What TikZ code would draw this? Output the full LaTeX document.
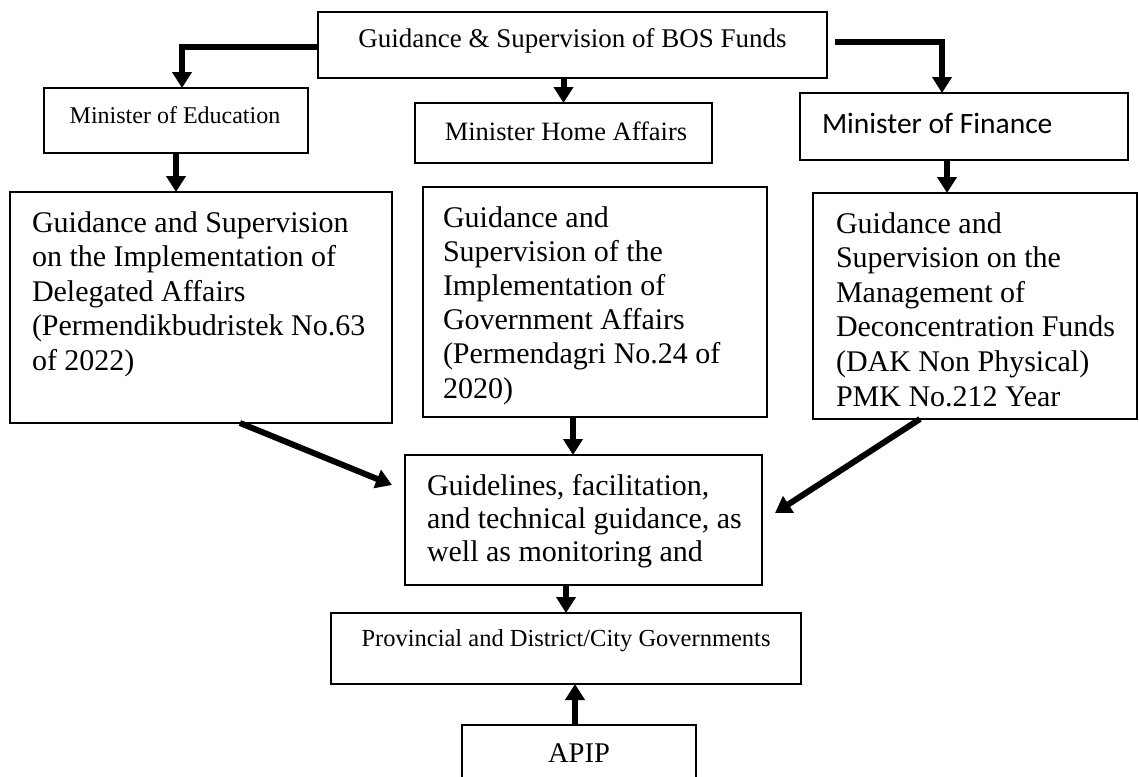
\documentclass[tikz,border=0pt]{standalone}
\usepackage{fontspec}
\setmainfont{Liberation Serif}
\newfontfamily\calibfont{Carlito}
\usetikzlibrary{arrows.meta,calc}
\begin{document}
\begin{tikzpicture}[x=1pt,y=-1pt,
  box/.style={draw,line width=2pt,inner sep=0pt,outer sep=0pt},
  arr/.style={line width=6pt,line join=miter,-{Triangle[length=16pt,width=19pt]}},
  lbl/.style={inner sep=0pt,outer sep=0pt},
  big/.style={lbl,anchor=base west}]
\useasboundingbox (0,0) rectangle (1139,776);
\clip (0,0) rectangle (1139,776);
% boxes
\node[box,minimum width=509pt,minimum height=66pt] (top) at (572.5,45) {};
\node[box,minimum width=264pt,minimum height=65pt] (moe) at (176,120.5) {};
\node[box,minimum width=297pt,minimum height=60pt] (mha) at (563.5,133) {};
\node[box,minimum width=328pt,minimum height=67pt] (mof) at (964,126.5) {};
\node[box,minimum width=382pt,minimum height=231pt] (g1) at (201,307.5) {};
\node[box,minimum width=344pt,minimum height=230pt] (g2) at (595,302) {};
\node[box,minimum width=324pt,minimum height=226pt] (g3) at (975,306) {};
\node[box,minimum width=357pt,minimum height=130pt] (guide) at (583.5,520) {};
\node[box,minimum width=470pt,minimum height=71pt] (pdcg) at (566,648.5) {};
\node[box,minimum width=234pt,minimum height=65pt] (apip) at (579,757.5) {};
% texts
\node[lbl,anchor=base,font=\fontsize{27}{30}\selectfont] (toptxt) at (572.5,48) {Guidance \& Supervision of BOS Funds};
\node[lbl,anchor=base,font=\fontsize{24}{28}\selectfont] (moetxt) at (175,123) {Minister of Education};
\node[lbl,anchor=base,font=\fontsize{26.5}{30}\selectfont] (mhatxt) at (566,140) {Minister Home Affairs};
\node[lbl,anchor=base west,font=\calibfont\fontsize{29.5}{34}\selectfont] (moftxt) at (822,133) {Minister of Finance};
\node[big,font=\fontsize{30}{34.5}\selectfont] (g1txt) at (32,232) {\parbox[t]{400pt}{\raggedright Guidance and Supervision\\on the Implementation of\\Delegated Affairs\\(Permendikbudristek No.63\\of 2022)}};
\node[big,font=\fontsize{30}{34.2}\selectfont] (g2txt) at (443,227) {\parbox[t]{400pt}{\raggedright Guidance and\\Supervision of the\\Implementation of\\Government Affairs\\(Permendagri No.24 of\\2020)}};
\node[big,font=\fontsize{30}{34.6}\selectfont] (g3txt) at (836,233) {\parbox[t]{400pt}{\raggedright Guidance and\\Supervision on the\\Management of\\Deconcentration Funds\\(DAK Non Physical)\\PMK No.212 Year}};
\node[big,font=\fontsize{30}{33.3}\selectfont] (guidetxt) at (427,495) {\parbox[t]{400pt}{\raggedright Guidelines, facilitation,\\and technical guidance, as\\well as monitoring and}};
\node[lbl,anchor=base,font=\fontsize{24.5}{28}\selectfont] (pdcgtxt) at (566,646) {Provincial and District/City Governments};
\node[lbl,anchor=base,font=\fontsize{28.5}{32}\selectfont] (apiptxt) at (579,762) {APIP};
% connector ends
\coordinate (t1) at ($(guide.north west)+(-13,30)$);
\coordinate (t2) at ($(guide.north east)+(13,58)$);
% connectors
\draw[arr] ([yshift=-2pt]top.west) -| ([xshift=6pt]moe.north);
\draw[arr] (top.south -| mha.north) -- (mha.north);
\draw[arr] ([xshift=8pt,yshift=3pt]top.east) -| ([xshift=-22pt]mof.north);
\draw[arr] (moe.south) -- (moe.south |- g1.north);
\draw[arr] ([xshift=-17pt]mof.south) -- ([xshift=-17pt]mof.south |- g3.north);
\draw[arr] ([xshift=-22pt]g2.south) -- ([xshift=-22pt]g2.south |- guide.north);
\draw[arr] ([xshift=39pt]g1.south) -- (t1);
\draw[arr] ([xshift=-55pt]g3.south) -- (t2);
\draw[arr] (guide.south -| pdcg.north) -- (pdcg.north);
\draw[arr] ([xshift=-4pt]apip.north) -- ([xshift=-4pt]apip.north |- pdcg.south);
\end{tikzpicture}
\end{document}
